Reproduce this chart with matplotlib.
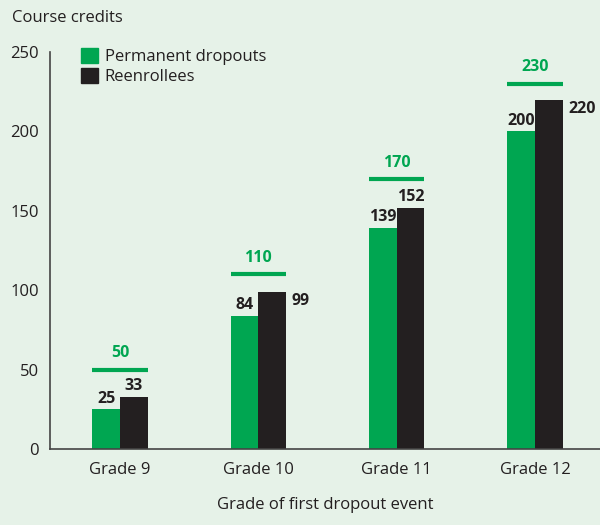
import matplotlib.pyplot as plt
import numpy as np
from matplotlib.patches import Patch

grades = ["Grade 9", "Grade 10", "Grade 11", "Grade 12"]
permanent_dropouts = [25, 84, 139, 200]
reenrollees = [33, 99, 152, 220]
required_credits = [50, 110, 170, 230]

GREEN = "#00a651"
BLACK = "#231f20"
BG = "#e6f2e8"

plt.rcParams["font.family"] = ["Open Sans", "DejaVu Sans"]
plt.rcParams["font.size"] = 12

fig = plt.figure(figsize=(6, 5.25), dpi=100, facecolor=BG)
ax = fig.add_axes([50 / 600, 1 - 449 / 525, 550 / 600, 397 / 525])
ax.set_facecolor(BG)

x = np.arange(len(grades))
w = 0.2
ax.bar(x - w / 2, permanent_dropouts, w, color=GREEN)
ax.bar(x + w / 2, reenrollees, w, color=BLACK)

lab = dict(fontweight="bold", fontsize=11.5, textcoords="offset points")
for xi, g, r, req in zip(x, permanent_dropouts, reenrollees, required_credits):
    ax.hlines(req, xi - w, xi + w, color=GREEN, lw=3)
    ax.annotate(str(req), (xi, req), xytext=(0, 6), ha="center", va="bottom",
                color=GREEN, **lab)
    ax.annotate(str(g), (xi - w / 2, g), xytext=(0, 2), ha="center", va="bottom",
                color=BLACK, **lab)
    # put the label beside the bar when it would run into the reference line
    if req - r < 15:
        ax.annotate(str(r), (xi + w, r), xytext=(4, -1), ha="left", va="top",
                    color=BLACK, **lab)
    else:
        ax.annotate(str(r), (xi + w / 2, r), xytext=(0, 2), ha="center", va="bottom",
                    color=BLACK, **lab)

ax.set_xlim(-0.506, 3.47)
ax.set_ylim(0, 250)
ax.set_yticks(range(0, 251, 50))
ax.set_xticks(x, grades)
ax.tick_params(length=0, colors=BLACK, labelsize=12)
ax.tick_params(axis="x", pad=9)
ax.tick_params(axis="y", pad=8)
for side in ("top", "right"):
    ax.spines[side].set_visible(False)
for side in ("left", "bottom"):
    ax.spines[side].set_color("#444444")
    ax.spines[side].set_linewidth(1.2)

ax.set_xlabel("Grade of first dropout event", color=BLACK, labelpad=14)
fig.text(12 / 600, 1 - 18 / 525, "Course credits", ha="left", va="center", color=BLACK)

handles = [Patch(color=GREEN, label="Permanent dropouts"),
           Patch(color=BLACK, label="Reenrollees")]
ax.legend(handles=handles, loc="upper left", bbox_to_anchor=(73 / 600, 1 - 40 / 525),
          bbox_transform=fig.transFigure, frameon=False, handlelength=1.0,
          handleheight=1.0, handletextpad=0.4, labelspacing=0.15, borderpad=0,
          fontsize=12, labelcolor=BLACK)

fig.savefig("out.png", dpi=100, facecolor=BG)
